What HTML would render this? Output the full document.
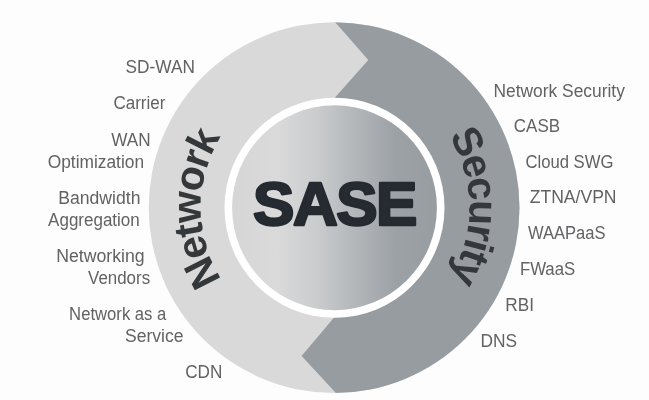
<!DOCTYPE html>
<html><head><meta charset="utf-8">
<style>
html,body{margin:0;padding:0;background:#fdfdfd;}
body{width:649px;height:400px;overflow:hidden;}
svg{display:block;will-change:transform;filter:blur(0.45px);}
.lb{font-family:"Liberation Sans",sans-serif;font-size:17.5px;fill:#616264;}
.big{font-family:"Liberation Sans",sans-serif;font-weight:bold;fill:#262b31;}
.arc{stroke:#35383a;stroke-width:0.0;fill:#35383a;}
</style></head>
<body>
<svg width="649" height="400" viewBox="0 0 649 400">
<defs>
  <linearGradient id="cg" x1="232" y1="0" x2="437" y2="0" gradientUnits="userSpaceOnUse">
    <stop offset="0" stop-color="#d6d6d6"/>
    <stop offset="0.22" stop-color="#dadada"/>
    <stop offset="0.42" stop-color="#c9cbcc"/>
    <stop offset="0.62" stop-color="#b1b5b8"/>
    <stop offset="0.8" stop-color="#9ca1a6"/>
    <stop offset="1" stop-color="#989da2"/>
  </linearGradient>
  <clipPath id="ring"><circle cx="334.1" cy="207.7" r="185.4"/></clipPath>
  <path id="arcN" d="M 334.3 341.0 A 133.5 133.5 0 1 1 334.3 74.0 A 133.5 133.5 0 1 1 334.3 341.0"/>
  <path id="arcS" d="M 334.3 342.5 A 135 135 0 1 1 334.3 72.5 A 135 135 0 1 1 334.3 342.5"/>
</defs>
<rect width="649" height="400" fill="#fdfdfd"/>
<g clip-path="url(#ring)">
  <rect x="140" y="15" width="390" height="385" fill="#d9d9d9"/>
  <polygon points="315.7,0 368.3,60 328.3,105 340.4,310 301.6,356 342.4,400 649,400 649,0" fill="#979ca1"/>
</g>
<circle cx="334.5" cy="207.75" r="110.0" fill="#ffffff"/>
<circle cx="334.5" cy="207.75" r="102.4" fill="url(#cg)"/>
<text class="big" x="334.5" y="225.2" font-size="62" text-anchor="middle" letter-spacing="-1.5" stroke="#242a30" stroke-width="2.6" stroke-linejoin="round" fill="#242a30">SASE</text>
<text class="big arc" font-size="41" letter-spacing="-1.83"><textPath href="#arcN" startOffset="24.8%" text-anchor="middle">Network</textPath></text>
<text class="big arc" font-size="41" letter-spacing="-1.73"><textPath href="#arcS" startOffset="74.82%" text-anchor="middle">Security</textPath></text>
<text class="lb" x="125.60" y="73.20" textLength="69.31" lengthAdjust="spacingAndGlyphs">SD-WAN</text>
<text class="lb" x="113.40" y="109.10" textLength="52.05" lengthAdjust="spacingAndGlyphs">Carrier</text>
<text class="lb" x="111.20" y="145.50" textLength="39.38" lengthAdjust="spacingAndGlyphs">WAN</text>
<text class="lb" x="47.70" y="167.70" textLength="96.35" lengthAdjust="spacingAndGlyphs">Optimization</text>
<text class="lb" x="58.20" y="203.60" textLength="82.25" lengthAdjust="spacingAndGlyphs">Bandwidth</text>
<text class="lb" x="48.10" y="226.20" textLength="91.66" lengthAdjust="spacingAndGlyphs">Aggregation</text>
<text class="lb" x="56.20" y="261.90" textLength="88.37" lengthAdjust="spacingAndGlyphs">Networking</text>
<text class="lb" x="88.10" y="284.10" textLength="62.00" lengthAdjust="spacingAndGlyphs">Vendors</text>
<text class="lb" x="69.10" y="319.90" textLength="97.27" lengthAdjust="spacingAndGlyphs">Network as a</text>
<text class="lb" x="125.00" y="341.50" textLength="58.47" lengthAdjust="spacingAndGlyphs">Service</text>
<text class="lb" x="185.20" y="377.80" textLength="37.09" lengthAdjust="spacingAndGlyphs">CDN</text>
<text class="lb" x="493.50" y="96.80" textLength="131.36" lengthAdjust="spacingAndGlyphs">Network Security</text>
<text class="lb" x="513.80" y="132.10" textLength="46.31" lengthAdjust="spacingAndGlyphs">CASB</text>
<text class="lb" x="525.40" y="167.90" textLength="88.03" lengthAdjust="spacingAndGlyphs">Cloud SWG</text>
<text class="lb" x="529.70" y="203.40" textLength="86.86" lengthAdjust="spacingAndGlyphs">ZTNA/VPN</text>
<text class="lb" x="528.00" y="239.20" textLength="77.58" lengthAdjust="spacingAndGlyphs">WAAPaaS</text>
<text class="lb" x="519.90" y="275.10" textLength="55.35" lengthAdjust="spacingAndGlyphs">FWaaS</text>
<text class="lb" x="505.30" y="311.20" textLength="28.64" lengthAdjust="spacingAndGlyphs">RBI</text>
<text class="lb" x="480.40" y="346.80" textLength="36.66" lengthAdjust="spacingAndGlyphs">DNS</text>
</svg>
</body></html>
